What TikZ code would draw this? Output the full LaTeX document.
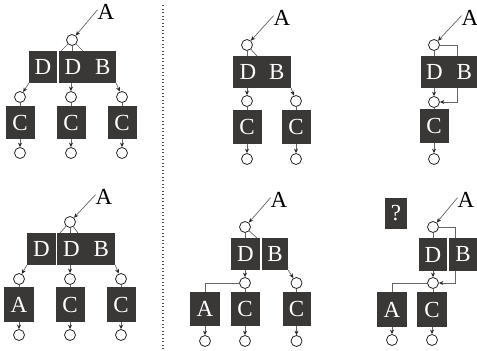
\documentclass[tikz,border=0pt]{standalone}
\usepackage{fontspec}
\setmainfont{Liberation Serif}
\usetikzlibrary{arrows.meta,backgrounds}
\definecolor{boxc}{HTML}{3A3737}
\definecolor{linec}{HTML}{666666}
\begin{document}
\begin{tikzpicture}[x=1pt,y=-1pt,
  blk/.style={fill=boxc,text=white,inner sep=0pt,font=\fontsize{23}{23}\selectfont},
  circ/.style={circle,draw=black!85,line width=0.8pt,minimum size=11pt,inner sep=0pt,fill=white},
  ln/.style={draw=linec,line width=0.7pt},
  arr/.style={ln,-{Stealth[length=4.5pt,width=4pt,color=black!85]}},
  lbl/.style={inner sep=0pt,font=\fontsize{23}{23}\selectfont},
  dotline/.style={draw=black!70,line width=1.2pt,dash pattern=on 1.3pt off 2.2pt}]
\begin{scope}[on background layer]
\fill[white] (0,0) rectangle (477,351);
\end{scope}
\useasboundingbox (0,0) rectangle (477,351);
% divider
\coordinate (v1) at (163,5);
\coordinate (v2) at (163,351);
\draw[dotline] (v1) -- (v2);

% ---------- Panel 1 ----------
\node[lbl] (a1) at (106,12) {A};
\node[circ] (t1) at (72,40) {};
\node[blk,minimum width=28pt,minimum height=32pt] (d1) at (43,67) {D};
\node[blk,minimum width=57pt,minimum height=32pt] (db1) at (87.5,67) {D\hspace{14pt}B};
\node[circ] (l1) at (20,97) {};
\node[circ] (m1) at (71,97) {};
\node[circ] (r1) at (122,97) {};
\node[blk,minimum width=29pt,minimum height=33pt] (c11) at (20,122.5) {C};
\node[blk,minimum width=29pt,minimum height=33pt] (c12) at (71,122.5) {C};
\node[blk,minimum width=29pt,minimum height=33pt] (c13) at (122,122.5) {C};
\node[circ] (e11) at (20,153) {};
\node[circ] (e12) at (71,153) {};
\node[circ] (e13) at (122,153) {};
\coordinate (u1a) at (61,51);
\coordinate (u1b) at (72,51);
\coordinate (u1c) at (83,51);
\draw[arr] (a1.165) -- (t1);
\draw[ln] (t1) -- (u1a);
\draw[ln] (t1) -- (u1b);
\draw[ln] (t1) -- (u1c);
\draw[arr] (d1.south west) -- (l1);
\draw[arr] (m1 |- db1.south) -- (m1);
\draw[arr] (db1.south east) -- (r1);
\draw[ln] (l1) -- (c11);
\draw[ln] (m1) -- (c12);
\draw[ln] (r1) -- (c13);
\draw[arr] (c11) -- (e11);
\draw[arr] (c12) -- (e12);
\draw[arr] (c13) -- (e13);

% ---------- Panel 2 ----------
\node[lbl] (a2) at (282,18) {A};
\node[circ] (t2) at (247,45) {};
\node[blk,minimum width=58pt,minimum height=32pt] (db2) at (262,72) {D\hspace{13pt}B};
\node[circ] (l2) at (247,101) {};
\node[circ] (r2) at (296,101) {};
\node[blk,minimum width=29pt,minimum height=34pt] (c21) at (247,127) {C};
\node[blk,minimum width=29pt,minimum height=34pt] (c22) at (296,127) {C};
\node[circ] (e21) at (247,159) {};
\node[circ] (e22) at (296,159) {};
\coordinate (u2a) at (257,56);
\draw[arr] (a2.165) -- (t2);
\draw[ln] (t2) -- (t2 |- db2.north);
\draw[ln] (t2) -- (u2a);
\draw[arr] (l2 |- db2.south) -- (l2);
\draw[arr] (db2.south east) -- (r2);
\draw[ln] (l2) -- (c21);
\draw[ln] (r2) -- (c22);
\draw[arr] (c21) -- (e21);
\draw[arr] (c22) -- (e22);

% ---------- Panel 3 ----------
\node[lbl] (a3) at (470,18) {A};
\node[circ] (t3) at (434,45) {};
\node[blk,minimum width=56pt,minimum height=32pt] (db3) at (449,72) {D\hspace{14pt}B};
\node[circ] (l3) at (434,102) {};
\node[blk,minimum width=29pt,minimum height=34pt] (c31) at (434,126) {C};
\node[circ] (e31) at (434,159) {};
\coordinate (k3a) at (457,45);
\coordinate (k3b) at (457,102);
\draw[arr] (a3.165) -- (t3);
\draw[ln] (t3) -- (t3 |- db3.north);
\begin{scope}[on background layer]
\draw[arr] (t3) -- (k3a) -- (k3b) -- (l3);
\end{scope}
\draw[arr] (l3 |- db3.south) -- (l3);
\draw[ln] (l3) -- (c31);
\draw[arr] (c31) -- (e31);

% ---------- Panel 4 ----------
\node[lbl] (a4) at (104,197) {A};
\node[circ] (t4) at (70,222) {};
\node[blk,minimum width=29pt,minimum height=32pt] (d4) at (41.5,249) {D};
\node[blk,minimum width=58pt,minimum height=32pt] (db4) at (86,249) {D\hspace{14pt}B};
\node[circ] (l4) at (19,279) {};
\node[circ] (m4) at (70,279) {};
\node[circ] (r4) at (121,279) {};
\node[blk,minimum width=30pt,minimum height=35pt] (c41) at (19,304.5) {A};
\node[blk,minimum width=29pt,minimum height=35pt] (c42) at (70,304.5) {C};
\node[blk,minimum width=29pt,minimum height=35pt] (c43) at (121,304.5) {C};
\node[circ] (e41) at (19,335) {};
\node[circ] (e42) at (70,335) {};
\node[circ] (e43) at (121,335) {};
\coordinate (u4a) at (60,233);
\coordinate (u4b) at (70,233);
\coordinate (u4c) at (78,233);
\draw[arr] (a4.165) -- (t4);
\draw[ln] (t4) -- (u4a);
\draw[ln] (t4) -- (u4b);
\draw[ln] (t4) -- (u4c);
\draw[arr] (d4.south west) -- (l4);
\draw[arr] (m4 |- db4.south) -- (m4);
\draw[arr] (db4.south east) -- (r4);
\draw[ln] (l4) -- (c41);
\draw[ln] (m4) -- (c42);
\draw[ln] (r4) -- (c43);
\draw[arr] (c41) -- (e41);
\draw[arr] (c42) -- (e42);
\draw[arr] (c43) -- (e43);

% ---------- Panel 5 ----------
\node[lbl] (a5) at (279,200) {A};
\node[circ] (t5) at (245,227) {};
\node[blk,minimum width=29pt,minimum height=32pt] (d5) at (245.5,254) {D};
\node[blk,minimum width=26pt,minimum height=32pt] (b5) at (275,254) {B};
\node[circ] (l5) at (245,283) {};
\node[circ] (r5) at (296.5,283) {};
\node[blk,minimum width=30pt,minimum height=34pt] (c51) at (205,309) {A};
\node[blk,minimum width=29pt,minimum height=34pt] (c52) at (245,309) {C};
\node[blk,minimum width=28pt,minimum height=34pt] (c53) at (296.5,309) {C};
\node[circ] (e51) at (205,341) {};
\node[circ] (e52) at (245,341) {};
\node[circ] (e53) at (296.5,341) {};
\coordinate (u5a) at (257,238);
\coordinate (k5) at (205,283);
\draw[arr] (a5.165) -- (t5);
\draw[ln] (t5) -- (t5 |- d5.north);
\draw[ln] (t5) -- (u5a);
\draw[arr] (l5 |- d5.south) -- (l5);
\draw[arr] (b5.south east) -- (r5);
\draw[ln] (l5) -- (k5) -- (c51.north);
\draw[ln] (l5) -- (c52);
\draw[ln] (r5) -- (c53);
\draw[arr] (c51) -- (e51);
\draw[arr] (c52) -- (e52);
\draw[arr] (c53) -- (e53);

% ---------- Panel 6 ----------
\node[blk,minimum width=22pt,minimum height=31pt] (q6) at (396,213.5) {?};
\node[lbl] (a6) at (466,200) {A};
\node[circ] (t6) at (433,227) {};
\node[blk,minimum width=28pt,minimum height=33pt] (d6) at (433,254.5) {D};
\node[blk,minimum width=28pt,minimum height=33pt] (b6) at (463,254.5) {B};
\node[circ] (l6) at (433,283) {};
\node[blk,minimum width=30pt,minimum height=35pt] (c61) at (392,309.5) {A};
\node[blk,minimum width=30pt,minimum height=35pt] (c62) at (432,309.5) {C};
\node[circ] (e61) at (392,340) {};
\node[circ] (e62) at (432,340) {};
\coordinate (k6a) at (455,227);
\coordinate (k6b) at (455,283);
\coordinate (k6c) at (392,283);
\draw[arr] (a6.165) -- (t6);
\draw[ln] (t6) -- (t6 |- d6.north);
\begin{scope}[on background layer]
\draw[arr] (t6) -- (k6a) -- (k6b) -- (l6);
\end{scope}
\draw[arr] (l6 |- d6.south) -- (l6);
\draw[ln] (l6) -- (k6c) -- (c61.north);
\draw[ln] (l6) -- (l6 |- c62.north);
\draw[arr] (c61) -- (e61);
\draw[arr] (c62) -- (e62);
\end{tikzpicture}
\end{document}
